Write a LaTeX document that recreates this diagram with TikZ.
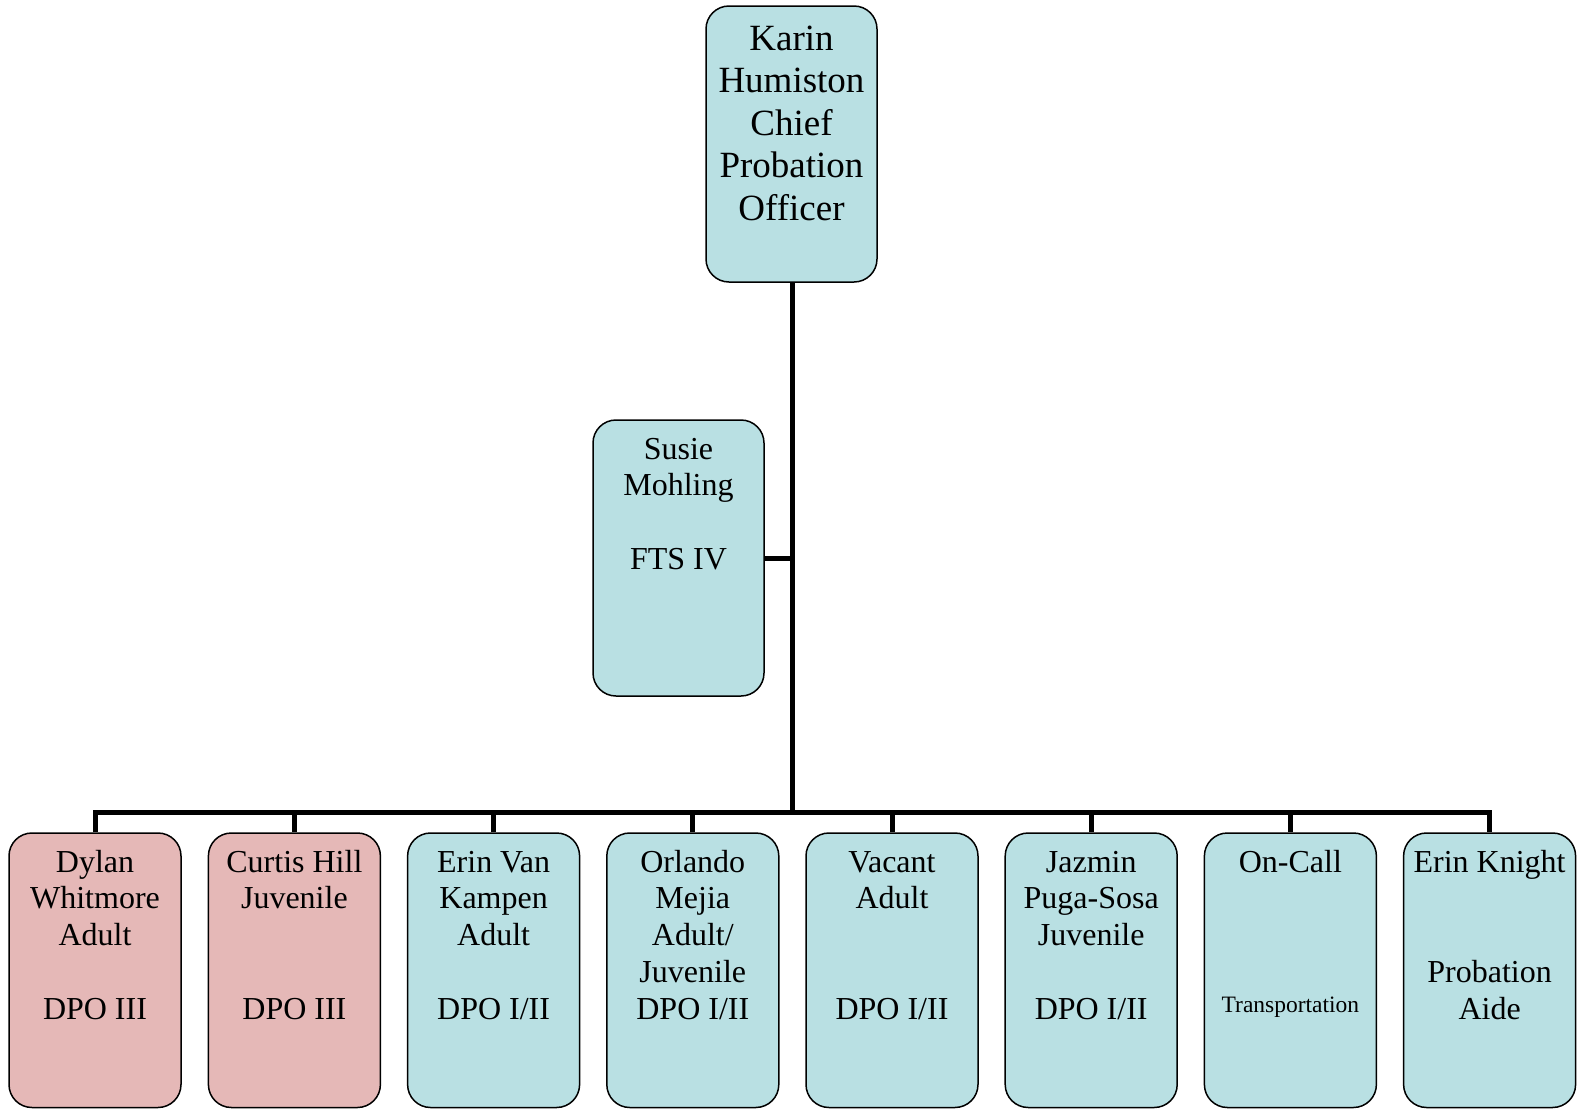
\documentclass[tikz,border=0pt]{standalone}
\usepackage{fontspec}
\setmainfont{Liberation Serif}
\definecolor{boxblue}{HTML}{B9E0E3}
\definecolor{boxpink}{HTML}{E5B8B7}
\tikzset{
  unit/.style={draw=black, line width=1.5pt, rounded corners=23pt,
    inner sep=0pt, minimum width=172pt},
  blueunit/.style={unit, fill=boxblue},
  pinkunit/.style={unit, fill=boxpink},
  staffunit/.style={minimum height=274.5pt},
  link/.style={draw=black, line width=5pt, line join=miter},
  lbl/.style={anchor=base, inner sep=0pt, font=\fontsize{32}{36.8}\selectfont},
  biglbl/.style={anchor=base, inner sep=0pt, font=\fontsize{37}{42.5}\selectfont},
  smalllbl/.style={anchor=base, inner sep=0pt, font=\fontsize{23.5}{27}\selectfont},
}
\newcommand{\lines}[1]{\begin{tabular}[t]{@{}c@{}}#1\end{tabular}}
\begin{document}
\begin{tikzpicture}[x=1pt, y=-1pt]
  \useasboundingbox (0,0) rectangle (1585,1109);

  % chief and assistant
  \node[blueunit, minimum width=171pt, minimum height=276pt] (chief) at (791.5,144) {};
  \node[blueunit, minimum width=171pt, minimum height=276pt] (susie) at (678.5,558) {};

  % staff row
  \node[pinkunit, staffunit] (b1) at (95,970.25) {};
  \node[pinkunit, staffunit] (b2) at (294.4,970.25) {};
  \node[blueunit, staffunit] (b3) at (493.6,970.25) {};
  \node[blueunit, staffunit] (b4) at (692.8,970.25) {};
  \node[blueunit, staffunit] (b5) at (892,970.25) {};
  \node[blueunit, staffunit] (b6) at (1091.2,970.25) {};
  \node[blueunit, staffunit] (b7) at (1290.4,970.25) {};
  \node[blueunit, staffunit] (b8) at (1489.6,970.25) {};

  % connectors
  \coordinate (bus) at (792,812);
  \draw[link] (chief.south -| bus) -- (bus);
  \draw[link] (susie.east) -- (susie.east -| bus);
  \draw[link] (b1.north) -- (b1.north |- bus) -- (b8.north |- bus) -- (b8.north);
  \foreach \i in {2,...,7} {
    \draw[link] (b\i.north) -- (b\i.north |- bus);
  }

  % texts
  \node[biglbl] (tchief) at (chief.north |- 0,50) {\lines{Karin\\Humiston\\Chief\\Probation\\Officer}};
  \node[lbl] (tsusie) at (susie.north |- 0,459) {\lines{Susie\\Mohling\\ \\FTS IV}};
  \node[lbl] (t1) at (b1.north |- 0,872) {\lines{Dylan\\Whitmore\\Adult\\ \\DPO III}};
  \node[lbl] (t2) at (b2.north |- 0,872) {\lines{Curtis Hill\\Juvenile\\ \\ \\DPO III}};
  \node[lbl] (t3) at (b3.north |- 0,872) {\lines{Erin Van\\Kampen\\Adult\\ \\DPO I/II}};
  \node[lbl] (t4) at (b4.north |- 0,872) {\lines{Orlando\\Mejia\\Adult/\\Juvenile\\DPO I/II}};
  \node[lbl] (t5) at (b5.north |- 0,872) {\lines{Vacant\\Adult\\ \\ \\DPO I/II}};
  \node[lbl] (t6) at (b6.north |- 0,872) {\lines{Jazmin\\Puga-Sosa\\Juvenile\\ \\DPO I/II}};
  \node[lbl] (t7) at (b7.north |- 0,872) {On-Call};
  \node[smalllbl] (t7b) at (b7.north |- 0,1012) {Transportation};
  \node[lbl] (t8) at (b8.north |- 0,872) {\lines{Erin Knight\\ \\ \\Probation\\Aide}};
\end{tikzpicture}
\end{document}
